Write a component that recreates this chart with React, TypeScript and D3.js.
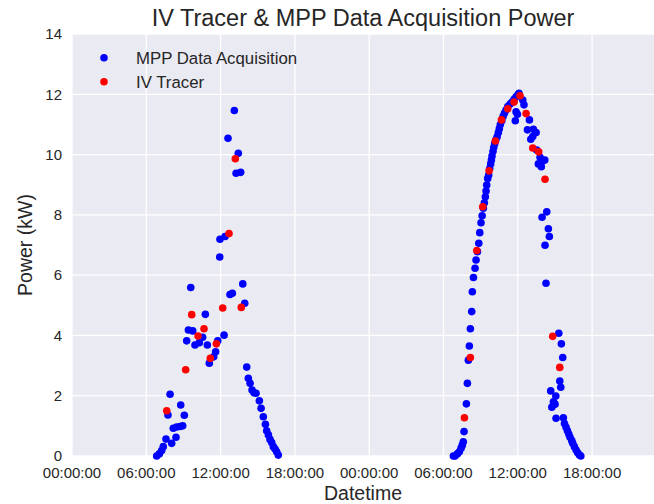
import React, { useEffect, useRef } from 'react';
import * as d3 from 'd3';

// [hour of day, kW]
const mppDay1: [number, number][] = [
  [6.84, 0.0], [7.05, 0.07], [7.24, 0.18], [7.37, 0.31], [7.59, 0.56], [7.75, 1.36], [7.92, 2.05],
  [8.05, 0.42], [8.18, 0.92], [8.4, 0.62], [8.45, 0.96], [8.72, 0.98], [8.78, 1.69], [8.94, 1.0],
  [9.07, 1.35], [9.26, 3.82], [9.4, 4.18], [9.59, 5.59], [9.75, 4.15], [9.93, 3.68], [10.28, 3.76],
  [10.55, 3.94], [10.77, 4.7], [10.93, 3.68], [11.09, 3.08], [11.44, 3.29], [11.6, 3.46], [11.77, 3.82],
  [11.93, 6.6], [11.95, 7.19], [12.28, 4.01], [12.36, 7.28], [12.6, 10.54], [12.76, 5.36], [12.95, 5.4],
  [13.11, 11.46], [13.25, 9.38], [13.43, 10.04], [13.62, 9.41], [13.79, 5.71], [13.95, 5.07],
  [14.11, 2.95], [14.24, 2.58], [14.38, 2.41], [14.54, 2.19], [14.7, 2.1], [14.86, 2.08], [15.13, 1.83],
  [15.27, 1.58], [15.45, 1.3], [15.62, 1.05], [15.72, 0.84], [15.86, 0.7], [15.99, 0.55], [16.13, 0.45],
  [16.26, 0.31], [16.4, 0.23], [16.53, 0.14], [16.66, 0.03]
];

const mppDay2: [number, number][] = [
  [6.8, 0], [6.93, 0], [7.12, 0.07], [7.28, 0.14], [7.42, 0.26], [7.52, 0.36], [7.6, 0.47], [7.66, 0.81],
  [7.85, 1.73], [7.93, 2.41], [8.01, 3.18], [8.09, 3.65], [8.17, 4.22], [8.28, 4.79], [8.33, 5.45],
  [8.42, 5.92], [8.55, 6.23], [8.63, 6.5], [8.74, 6.78], [8.85, 7.06], [8.93, 7.41], [9.03, 7.74],
  [9.12, 7.97], [9.22, 8.22], [9.3, 8.4], [9.38, 8.6], [9.44, 8.79], [9.49, 8.99], [9.57, 9.21],
  [9.65, 9.32], [9.73, 9.54], [9.81, 9.69], [9.87, 9.82], [9.92, 9.95], [10.0, 10.11], [10.06, 10.24],
  [10.14, 10.37], [10.22, 10.48], [10.33, 10.59], [10.43, 10.73], [10.51, 10.86], [10.59, 11.0],
  [10.71, 11.12], [10.81, 11.26], [10.92, 11.37], [11.05, 11.48], [11.19, 11.59], [11.38, 11.68],
  [11.54, 11.74], [11.7, 11.83], [11.86, 11.92], [12.02, 11.99], [12.1, 12.03],
  [11.8, 11.12], [11.86, 11.42], [11.97, 11.34], [12.4, 11.81], [12.5, 11.65], [12.78, 10.82],
  [12.94, 11.15], [13.05, 10.51], [13.21, 10.6], [13.26, 10.84], [13.48, 10.73], [13.53, 10.15],
  [13.66, 9.69], [13.8, 9.91], [13.9, 9.6], [13.96, 7.92], [14.07, 9.8], [14.18, 9.82], [14.2, 6.99],
  [14.28, 5.73], [14.34, 8.1], [14.47, 7.54], [14.55, 7.28], [14.66, 2.16], [14.75, 1.62], [14.88, 1.8],
  [15.01, 1.72], [15.07, 1.99], [15.09, 1.25], [15.31, 4.07], [15.39, 2.49], [15.47, 2.28], [15.52, 3.72],
  [15.63, 3.27], [15.68, 1.27], [15.77, 1.08], [15.9, 0.95], [16.01, 0.84], [16.12, 0.73], [16.22, 0.62],
  [16.36, 0.51], [16.44, 0.42], [16.57, 0.31], [16.71, 0.2], [16.84, 0.11], [16.98, 0.03], [17.09, 0]
];

const ivDay1: [number, number][] = [
  [7.65, 1.5], [9.18, 2.86], [9.67, 4.69], [10.18, 3.98], [10.66, 4.22], [11.17, 3.24], [11.66, 3.72],
  [12.17, 4.91], [12.68, 7.38], [13.19, 9.86], [13.67, 4.93]
];

const ivDay2: [number, number][] = [
  [7.69, 1.27], [8.17, 3.27], [8.69, 6.82], [9.17, 8.27], [9.68, 9.46], [10.19, 10.45], [10.68, 11.15],
  [11.19, 11.52], [11.7, 11.74], [12.18, 11.95], [12.67, 11.36], [13.21, 10.22], [13.69, 10.09],
  [14.2, 9.18], [14.82, 3.97], [15.39, 2.94]
];

const yTicks = [0, 2, 4, 6, 8, 10, 12, 14];
const startDate = new Date(2016, 5, 20, 0, 0, 0);
const spanHours = 47;

const W = 654, H = 504;
const margin = { top: 34, right: 0, bottom: 48, left: 72 };
const font = '"Liberation Sans", Arial, sans-serif';
const textColor = '#262626';

const toDate = (day: number, h: number) => new Date(startDate.getTime() + (day * 24 + h) * 3600 * 1000);

export default function App() {
  const ref = useRef<SVGSVGElement>(null);

  useEffect(() => {
    const svg = d3.select(ref.current);
    svg.selectAll('*').remove();

    const w = W - margin.left - margin.right;
    const h = H - margin.top - margin.bottom;

    const x = d3.scaleTime()
      .domain([startDate, toDate(0, spanHours)])
      .range([margin.left, margin.left + w]);
    const y = d3.scaleLinear().domain([0, 14]).range([margin.top + h, margin.top]);

    svg.append('rect')
      .attr('x', margin.left).attr('y', margin.top)
      .attr('width', w).attr('height', h)
      .attr('fill', '#EAEAF2');

    const xTicks = x.ticks(d3.timeHour.every(6) as any);
    const fmt = d3.timeFormat('%H:%M:%S');

    svg.append('g').selectAll('line.vx').data(xTicks).join('line')
      .attr('x1', d => x(d)).attr('x2', d => x(d))
      .attr('y1', margin.top).attr('y2', margin.top + h)
      .attr('stroke', 'white').attr('stroke-width', 1.3);
    svg.append('g').selectAll('line.hy').data(yTicks).join('line')
      .attr('x1', margin.left).attr('x2', margin.left + w)
      .attr('y1', d => y(d)).attr('y2', d => y(d))
      .attr('stroke', 'white').attr('stroke-width', 1.3);

    svg.append('g').selectAll('text').data(xTicks).join('text')
      .attr('x', d => x(d)).attr('y', margin.top + h + 17)
      .attr('dy', '0.35em')
      .attr('text-anchor', 'middle')
      .attr('font-family', font).attr('font-size', 15).attr('fill', textColor)
      .text(d => fmt(d));

    svg.append('g').selectAll('text').data(yTicks).join('text')
      .attr('x', margin.left - 10).attr('y', d => y(d))
      .attr('dy', '0.35em')
      .attr('text-anchor', 'end')
      .attr('font-family', font).attr('font-size', 15).attr('fill', textColor)
      .text(d => d);

    const plot = svg.append('g');
    const dots = (data: [number, number][], day: number, color: string) => {
      plot.append('g').selectAll('circle').data(data).join('circle')
        .attr('cx', d => x(toDate(day, d[0])))
        .attr('cy', d => y(d[1]))
        .attr('r', 3.8)
        .attr('fill', color);
    };
    dots(mppDay1, 0, '#0000FF');
    dots(mppDay2, 1, '#0000FF');
    dots(ivDay1, 0, '#FF0000');
    dots(ivDay2, 1, '#FF0000');

    const legend = [
      { label: 'MPP Data Acquisition', color: '#0000FF' },
      { label: 'IV Tracer', color: '#FF0000' }
    ];
    const lg = svg.append('g');
    legend.forEach((l, i) => {
      const ly = 57.7 + i * 24;
      lg.append('circle').attr('cx', 104).attr('cy', ly).attr('r', 3.8).attr('fill', l.color);
      lg.append('text').attr('x', 136).attr('y', ly).attr('dy', '0.35em')
        .attr('font-family', font).attr('font-size', 16.8).attr('fill', textColor)
        .text(l.label);
    });

    svg.append('text')
      .attr('x', margin.left + w / 2).attr('y', 18).attr('dy', '0.35em')
      .attr('text-anchor', 'middle')
      .attr('font-family', font).attr('font-size', 23.5).attr('fill', textColor)
      .text('IV Tracer & MPP Data Acquisition Power');

    svg.append('text')
      .attr('x', margin.left + w / 2).attr('y', 493).attr('dy', '0.35em')
      .attr('text-anchor', 'middle')
      .attr('font-family', font).attr('font-size', 19.5).attr('fill', textColor)
      .text('Datetime');

    svg.append('text')
      .attr('transform', `translate(25, ${margin.top + h / 2}) rotate(-90)`)
      .attr('dy', '0.35em')
      .attr('text-anchor', 'middle')
      .attr('font-family', font).attr('font-size', 19.5).attr('fill', textColor)
      .text('Power (kW)');
  }, []);

  return (
    <svg ref={ref} width={W} height={H}
      style={{ position: 'absolute', left: 0, top: 0, display: 'block', background: 'white' }} />
  );
}
